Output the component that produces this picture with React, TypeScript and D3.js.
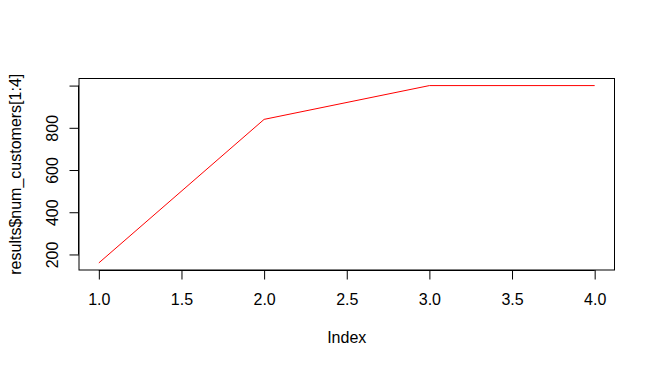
import React, { useEffect, useRef } from 'react';
import * as d3 from 'd3';

// values
const indexValues = [1, 2, 3, 4];
const numCustomers = [160, 840, 1000, 1000];
const xTicks = [1.0, 1.5, 2.0, 2.5, 3.0, 3.5, 4.0];
const yTicks = [200, 400, 600, 800, 1000];
const yTickLabels = ['200', '400', '600', '800', ''];

const App: React.FC = () => {
  const svgRef = useRef<SVGSVGElement>(null);

  useEffect(() => {
    if (!svgRef.current) return;
    const width = 655;
    const height = 368;
    const box = { left: 79, right: 614.5, top: 78.5, bottom: 270 };
    const font = 'Liberation Sans, Arial, sans-serif';

    const svg = d3.select(svgRef.current);
    svg.selectAll('*').remove();
    svg.attr('width', width).attr('height', height);

    // R style 4% axis extension
    const xPad = (d3.max(indexValues)! - d3.min(indexValues)!) * 0.04;
    const yPad = (d3.max(numCustomers)! - d3.min(numCustomers)!) * 0.04;
    const x = d3.scaleLinear()
      .domain([d3.min(indexValues)! - xPad, d3.max(indexValues)! + xPad])
      .range([box.left, box.right]);
    const y = d3.scaleLinear()
      .domain([d3.min(numCustomers)! - yPad, d3.max(numCustomers)! + yPad])
      .range([box.bottom, box.top]);

    // Data line
    const line = d3.line<number>()
      .x((_, i) => x(indexValues[i]))
      .y(d => y(d));
    svg.append('path')
      .datum(numCustomers)
      .attr('d', line)
      .style('fill', 'none')
      .style('stroke', '#ff0000')
      .style('stroke-width', '1px');

    // Plot box
    svg.append('rect')
      .attr('x', box.left)
      .attr('y', box.top)
      .attr('width', box.right - box.left)
      .attr('height', box.bottom - box.top)
      .style('fill', 'none')
      .style('stroke', '#000')
      .style('stroke-width', '1px');

    // Bottom axis
    const xAxis = svg.append('g')
      .attr('transform', `translate(0,${box.bottom})`)
      .call(d3.axisBottom(x).tickValues(xTicks).tickFormat(d3.format('.1f')).tickSize(9.5));
    xAxis.select('.domain')
      .attr('d', `M${x(1)},0.5H${x(4)}`);
    xAxis.selectAll('.tick text')
      .attr('y', 29.5)
      .attr('dy', 0)
      .attr('dominant-baseline', 'central');

    // Left axis, labels rotated like R's las=0
    const yAxis = svg.append('g')
      .attr('transform', `translate(${box.left},0)`)
      .call(d3.axisLeft(y).tickValues(yTicks).tickFormat((_, i) => yTickLabels[i]).tickSize(9.5));
    yAxis.select('.domain')
      .attr('d', `M-0.5,${y(200)}V${y(1000)}`);
    yAxis.selectAll('.tick text')
      .attr('x', 0)
      .attr('dy', 0)
      .attr('transform', 'translate(-27,0) rotate(-90)')
      .style('text-anchor', 'middle')
      .attr('dominant-baseline', 'central');

    svg.selectAll('.domain, .tick line').style('stroke', '#000');
    svg.selectAll('.tick text')
      .style('font-family', font)
      .style('font-size', '16px')
      .style('fill', '#000');

    // Axis titles
    svg.append('text')
      .attr('x', (box.left + box.right) / 2)
      .attr('y', 337.5)
      .attr('dominant-baseline', 'central')
      .style('text-anchor', 'middle')
      .style('font-family', font)
      .style('font-size', '16px')
      .text('Index');

    svg.append('text')
      .attr('transform', `translate(15,${(box.top + box.bottom) / 2}) rotate(-90)`)
      .attr('dominant-baseline', 'central')
      .style('text-anchor', 'middle')
      .style('font-family', font)
      .style('font-size', '16px')
      .text('results$num_customers[1:4]');
  }, []);

  return (
    <svg ref={svgRef} style={{ position: 'absolute', left: 0, top: 0, background: '#fff' }}></svg>
  );
};

export default App;
